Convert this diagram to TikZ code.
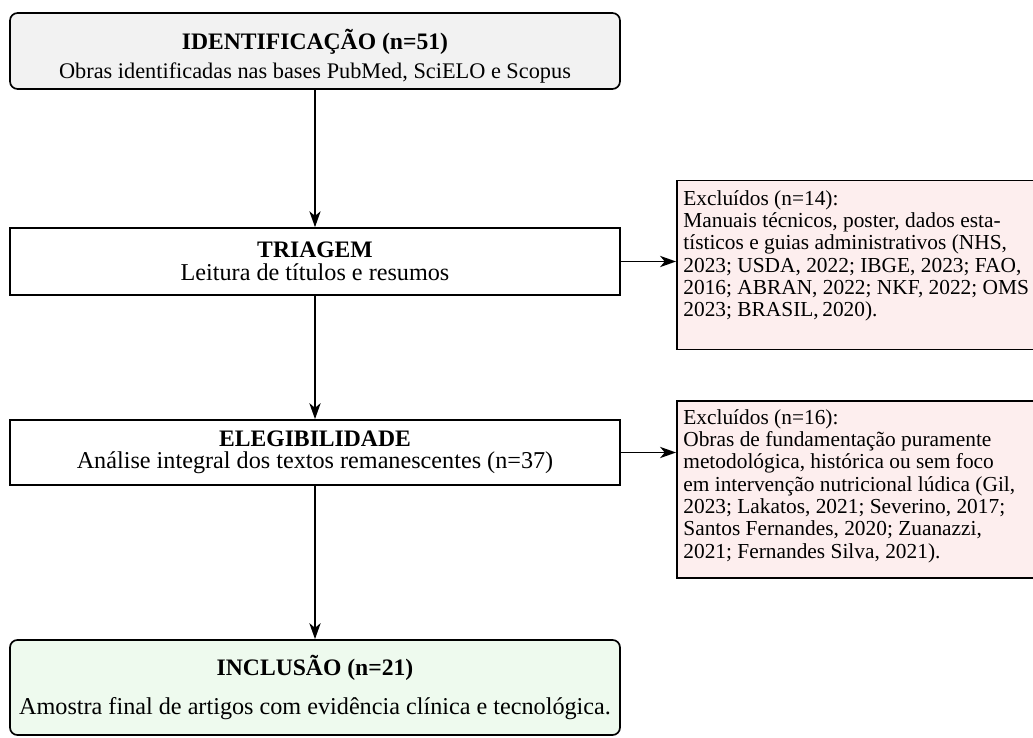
\documentclass[tikz,border=0pt]{standalone}
\usepackage{fontspec}
\setmainfont{Liberation Serif}
\usetikzlibrary{arrows.meta}
\definecolor{idfill}{HTML}{F2F2F2}
\definecolor{exfill}{HTML}{FDEEEE}
\definecolor{incfill}{HTML}{EEFAEE}
\newcommand{\ttlfont}{\fontsize{12.6}{14}\selectfont\bfseries}
\newcommand{\bodyfont}{\fontsize{12.9}{14}\selectfont}
\newcommand{\idfont}{\fontsize{11.9}{14}\selectfont}
\newcommand{\exfont}{\fontsize{11.4}{11.9}\selectfont}
\begin{document}
\begin{tikzpicture}[x=0.5333pt,y=-0.5333pt,
  stagebox/.style={draw, line width=0.9pt, align=center, inner sep=0pt},
  exbox/.style={draw, line width=0.9pt, fill=exfill, inner sep=0pt, anchor=west},
  extext/.style={anchor=north west, align=left, inner sep=0pt, font=\exfont},
  arr/.style={line width=0.9pt, -{Stealth[length=8.5pt,width=6pt,inset=2.5pt]}}]
\useasboundingbox (0,0) rectangle (1033,738);
% main column
\node[stagebox, rounded corners=4pt, fill=idfill, minimum width=325.3pt, minimum height=40.5pt] (id) at (315,51) {};
\node[align=center, inner sep=0pt] (idt) at (315,56)
  {{\ttlfont IDENTIFICAÇÃO (n=51)}\\[3.5pt]{\idfont Obras identificadas nas bases PubMed, SciELO e Scopus}};
\node[stagebox, minimum width=325.3pt, minimum height=35.7pt] (tri) at (315,261.5)
  {{\ttlfont TRIAGEM}\\[0.5pt]{\bodyfont Leitura de títulos e resumos}};
\node[stagebox, minimum width=325.3pt, minimum height=34.7pt] (eleg) at (315,452.5)
  {{\ttlfont ELEGIBILIDADE}\\{\bodyfont Análise integral dos textos remanescentes (n=37)}};
\node[stagebox, rounded corners=4pt, fill=incfill, minimum width=325.3pt, minimum height=50.7pt] (inc) at (315,687.5)
  {{\ttlfont INCLUSÃO (n=21)}\\[9pt]{\bodyfont Amostra final de artigos com evidência clínica e tecnológica.}};
% excluded boxes
\node[exbox, minimum width=200pt, minimum height=90pt] (ex1) at (676,265) {};
\node[extext] (ex1t) at (683,190) {Excluídos (n=14):\\Manuais técnicos, poster, dados esta-\\tísticos e guias administrativos (NHS,\\2023; USDA, 2022; IBGE, 2023; FAO,\\2016; ABRAN, 2022; NKF, 2022; OMS\\2023; BRASIL,\,2020).};
\node[exbox, minimum width=200pt, minimum height=94.4pt] (ex2) at (676,489.5) {};
\node[extext] (ex2t) at (683,409) {Excluídos (n=16):\\Obras de fundamentação puramente\\metodológica, histórica ou sem foco\\em intervenção nutricional lúdica (Gil,\\2023; Lakatos, 2021; Severino, 2017;\\Santos Fernandes, 2020; Zuanazzi,\\2021; Fernandes Silva, 2021).};
% connectors
\draw[arr] (id.south) -- (tri.north);
\draw[arr] (tri.south) -- (eleg.north);
\draw[arr] (eleg.south) -- (inc.north);
\draw[arr] (tri.east) -- (tri.east -| ex1.west);
\draw[arr] (eleg.east) -- (eleg.east -| ex2.west);
\end{tikzpicture}
\end{document}
